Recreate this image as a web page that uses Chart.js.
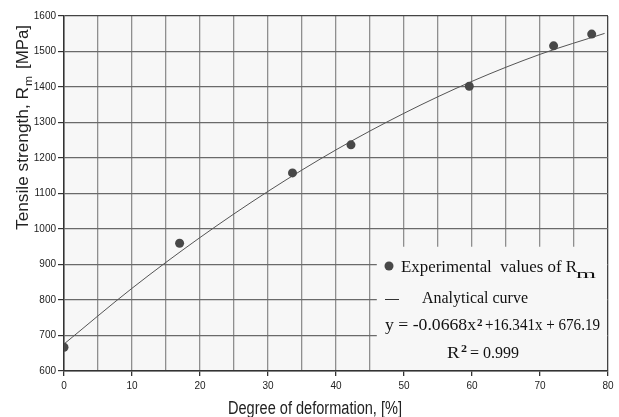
<!DOCTYPE html>
<html>
<head>
<meta charset="utf-8">
<script src="https://cdn.jsdelivr.net/npm/chart.js@4.4.0/dist/chart.umd.min.js"></script>
<style>
  html, body { margin: 0; padding: 0; background: #fff; }
  #wrap { width: 619px; height: 417px; }
</style>
</head>
<body>
<div id="wrap"><canvas id="chart" width="619" height="417"></canvas></div>
<script>
// measured points (degree of deformation %, Rm MPa)
const expX = [0, 17, 33.6, 42.2, 59.6, 72, 77.6];
const expY = [667, 960, 1158, 1237, 1402, 1516, 1549];

// analytical curve
const curveX = [0, 10, 20, 30, 40, 50, 60, 70, 79.5];
const curveY = [676, 833, 976, 1106, 1223, 1326, 1416, 1492, 1551];

const xTicks = [0, 10, 20, 30, 40, 50, 60, 70, 80];
const yTicks = [600, 700, 800, 900, 1000, 1100, 1200, 1300, 1400, 1500, 1600];

const sans = '"Liberation Sans", Arial, sans-serif';
const serif = '"Liberation Serif", "Times New Roman", serif';

//draw text squeezed/stretched to a given width
function fitText(ctx, text, x, y, w, font, sy){
    ctx.font = font;
    const m = ctx.measureText(text).width;
    ctx.save();
    ctx.translate(x, y);
    ctx.scale(w / m, sy || 1);
    ctx.fillText(text, 0, 0);
    ctx.restore();
}

// plot background + cover box for the legend
const backPlugin = {
    id: 'back',
    beforeDraw(chart){
        const {ctx, chartArea: a} = chart;
        ctx.save();
        ctx.fillStyle = '#f7f7f7';
        ctx.fillRect(a.left, a.top, a.right - a.left, a.bottom - a.top);
        ctx.restore();
    },
    beforeDatasetsDraw(chart){
        const {ctx, chartArea: a, scales} = chart;
        const x0 = scales.x.getPixelForValue(46);
        const y0 = scales.y.getPixelForValue(950);
        ctx.save();
        ctx.fillStyle = '#f7f7f7';
        ctx.fillRect(x0, y0, a.right - 1 - x0, a.bottom - 1 - y0);
        ctx.restore();
    }
};

// axis titles and legend text
const textPlugin = {
    id: 'texts',
    afterDraw(chart){
        const ctx = chart.ctx;
        ctx.save();
        ctx.fillStyle = '#222';
        ctx.textBaseline = 'alphabetic';
        ctx.textAlign = 'left';

        // x title
        fitText(ctx, 'Degree of deformation, [%]', 228, 414, 174, '16px ' + sans, 1.1);

        // y title, rotated
        ctx.save();
        ctx.translate(27.5, 230);
        ctx.rotate(-Math.PI / 2);
        fitText(ctx, 'Tensile strength, R', 0, 0, 143, '16px ' + sans);
        fitText(ctx, 'm', 144, 4, 10, '11px ' + sans);
        fitText(ctx, '[MPa]', 161, 0, 44, '16px ' + sans);
        ctx.restore();

        // legend
        ctx.beginPath();
        ctx.arc(389, 266, 4.5, 0, Math.PI * 2);
        ctx.fillStyle = '#484848';
        ctx.fill();
        ctx.fillStyle = '#111';
        fitText(ctx, 'Experimental  values of R', 401, 272, 176, '16px ' + serif);
        fitText(ctx, 'm', 576, 278, 20, '13px ' + serif);

        ctx.strokeStyle = '#333';
        ctx.lineWidth = 1;
        ctx.beginPath();
        ctx.moveTo(385, 299.5);
        ctx.lineTo(399, 299.5);
        ctx.stroke();
        fitText(ctx, 'Analytical curve', 422, 303, 106, '16px ' + serif);

        fitText(ctx, 'y = -0.0668x', 385, 330, 91, '16px ' + serif);
        fitText(ctx, '2', 477, 326, 5.5, 'bold 11px ' + serif);
        fitText(ctx, '+16.341x + 676.19', 485, 330, 115, '16px ' + serif);

        fitText(ctx, 'R', 447, 358, 12.5, '16px ' + serif);
        fitText(ctx, '2', 461, 352, 6, 'bold 11px ' + serif);
        fitText(ctx, '= 0.999', 470, 358, 49, '16px ' + serif);
        ctx.restore();
    }
};

const expData = expX.map((x, i) => ({x: x, y: expY[i]}));
const curveData = curveX.map((x, i) => ({x: x, y: curveY[i]}));

new Chart(document.getElementById('chart'), {
    type: 'scatter',
    data: {
        datasets: [
            {
                label: 'Experimental values of Rm',
                data: expData,
                pointRadius: 4.5,
                pointBackgroundColor: '#484848',
                pointBorderColor: '#484848',
                pointBorderWidth: 0,
                showLine: false
            },
            {
                label: 'Analytical curve',
                data: curveData,
                showLine: true,
                pointRadius: 0,
                borderColor: '#555',
                borderWidth: 1,
                cubicInterpolationMode: 'monotone'
            }
        ]
    },
    options: {
        responsive: false,
        animation: false,
        layout: { padding: { left: 0, right: 11, top: 16, bottom: 0 } },
        plugins: {
            legend: { display: false },
            tooltip: { enabled: false }
        },
        scales: {
            x: {
                type: 'linear',
                min: 0,
                max: 80,
                afterFit(s){ s.height = 46; },
                afterBuildTicks(s){
                    const t = [];
                    for (let v = 0; v <= 80; v += 5) t.push({value: v});
                    s.ticks = t;
                },
                ticks: {
                    autoSkip: false,
                    maxRotation: 0,
                    padding: 4,
                    color: '#222',
                    font: { family: sans, size: 10 },
                    callback: v => xTicks.includes(v) ? String(v) : ''
                },
                grid: {
                    color: c => c.tick && c.tick.value === 80 ? '#444' : '#8f8f8f',
                    lineWidth: 1.3,
                    tickLength: 5,
                    tickColor: c => c.tick && xTicks.includes(c.tick.value) ? '#333' : 'rgba(0,0,0,0)'
                },
                border: { color: '#333', width: 1.5 }
            },
            y: {
                type: 'linear',
                min: 600,
                max: 1600,
                afterFit(s){ s.width = 64; },
                afterBuildTicks(s){ s.ticks = yTicks.map(v => ({value: v})); },
                ticks: {
                    padding: 2,
                    color: '#222',
                    font: { family: sans, size: 10 },
                    callback: v => String(v)
                },
                grid: {
                    color: c => c.tick && c.tick.value === 1600 ? '#444' : '#6a6a6a',
                    lineWidth: 1.2,
                    tickLength: 6,
                    tickColor: '#333'
                },
                border: { color: '#333', width: 1.5 }
            }
        }
    },
    plugins: [backPlugin, textPlugin]
});
</script>
</body>
</html>
